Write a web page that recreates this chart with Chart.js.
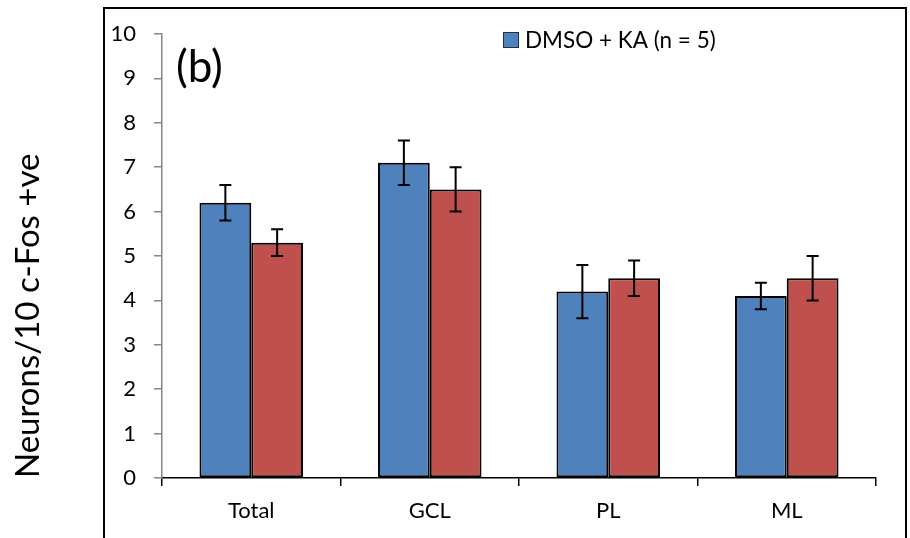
<!DOCTYPE html>
<html>
<head>
    <title>c-Fos neurons</title>
    <script src="https://cdn.jsdelivr.net/npm/chart.js@4.4.1/dist/chart.umd.min.js"></script>
    <style>
        html, body { margin: 0; padding: 0; background: #fff; }
        #wrap { width: 910px; height: 538px; }
    </style>
</head>
<body>
    <div id="wrap"><canvas id="fosChart" width="910" height="538"></canvas></div>

    <script>
        /* data */
        const regions = ['Total', 'GCL', 'PL', 'ML'];
        const kaMeans = [6.2, 7.1, 4.2, 4.1];
        const kaErrors = [0.4, 0.5, 0.6, 0.3];
        const otherMeans = [5.3, 6.5, 4.5, 4.5];
        const otherErrors = [0.3, 0.5, 0.4, 0.5];
        const yTicks = [0, 1, 2, 3, 4, 5, 6, 7, 8, 9, 10];

        const FONT = 'Lato';

        // whiskers drawn on top of each bar
        const errorBars = {
            id: 'errorBars',
            afterDatasetsDraw(chart) {
                const ctx = chart.ctx;
                const y = chart.scales.y;
                ctx.save();
                ctx.strokeStyle = '#000';
                ctx.lineWidth = 2;
                chart.data.datasets.forEach((ds, i) => {
                    const meta = chart.getDatasetMeta(i);
                    meta.data.forEach((bar, j) => {
                        const v = ds.data[j], e = ds.errors[j];
                        const top = y.getPixelForValue(v + e);
                        const bot = y.getPixelForValue(v - e);
                        ctx.beginPath();
                        ctx.moveTo(bar.x, top); ctx.lineTo(bar.x, bot);
                        ctx.moveTo(bar.x - 6, top); ctx.lineTo(bar.x + 6, top);
                        ctx.moveTo(bar.x - 6, bot); ctx.lineTo(bar.x + 6, bot);
                        ctx.stroke();
                    });
                });
                ctx.restore();
            }
        };

        // outer frame, panel letter and the single legend entry
        const decorations = {
            id: 'decorations',
            afterDraw(chart) {
                const ctx = chart.ctx;
                ctx.save();
                ctx.strokeStyle = '#000';
                ctx.lineWidth = 2;
                ctx.strokeRect(104, 8, 802, 540);

                ctx.fillStyle = '#000';
                ctx.font = '44px ' + FONT;
                ctx.textBaseline = 'alphabetic';
                ctx.fillText('(b)', 176, 82);

                const ds = chart.data.datasets[0];
                ctx.fillStyle = ds.backgroundColor;
                ctx.fillRect(503, 32, 16, 16);
                ctx.lineWidth = 1;
                ctx.strokeStyle = '#1f2f45';
                ctx.strokeRect(503.5, 32.5, 15, 15);
                ctx.fillStyle = '#000';
                ctx.font = '22.5px ' + FONT;
                ctx.textBaseline = 'middle';
                ctx.fillText(ds.label, 525, 41);
                ctx.restore();
            }
        };

        const ctx = document.getElementById('fosChart').getContext('2d');
        new Chart(ctx, {
            type: 'bar',
            data: {
                labels: regions,
                datasets: [{
                    label: 'DMSO + KA (n = 5)',
                    data: kaMeans,
                    errors: kaErrors,
                    backgroundColor: '#4F81BD',
                    borderColor: '#000',
                    borderWidth: 2,
                    borderSkipped: false
                }, {
                    label: '',
                    data: otherMeans,
                    errors: otherErrors,
                    backgroundColor: '#C0504D',
                    borderColor: '#000',
                    borderWidth: 2,
                    borderSkipped: false
                }]
            },
            options: {
                responsive: false,
                animation: false,
                devicePixelRatio: 1,
                categoryPercentage: 0.58,
                barPercentage: 1,
                layout: { padding: { top: 34, right: 34, bottom: 0, left: 0 } },
                plugins: {
                    legend: { display: false },
                    tooltip: { enabled: false }
                },
                scales: {
                    x: {
                        offset: true,
                        grid: {
                            offset: true,
                            drawOnChartArea: false,
                            drawTicks: true,
                            tickLength: 8,
                            color: '#000',
                            lineWidth: 1.5
                        },
                        border: { color: '#000', width: 1.5 },
                        ticks: {
                            color: '#000',
                            padding: 12,
                            font: { family: FONT, size: 22 }
                        },
                        afterFit(scale) { scale.height = 60; }
                    },
                    y: {
                        min: 0,
                        max: 10,
                        afterBuildTicks(scale) {
                            scale.ticks = yTicks.map(v => ({ value: v }));
                        },
                        grid: {
                            drawOnChartArea: false,
                            drawTicks: true,
                            tickLength: 8,
                            color: '#868686',
                            lineWidth: 1.5
                        },
                        border: { color: '#868686', width: 1.5 },
                        ticks: {
                            color: '#000',
                            padding: 18,
                            font: { family: FONT, size: 22 }
                        },
                        title: {
                            display: true,
                            text: 'Neurons/10 c-Fos +ve',
                            align: 'start',
                            color: '#000',
                            padding: { top: 9, bottom: 0 },
                            font: { family: FONT, size: 33 }
                        },
                        afterFit(scale) { scale.width = 162; }
                    }
                }
            },
            plugins: [errorBars, decorations]
        });
    </script>
</body>
</html>
